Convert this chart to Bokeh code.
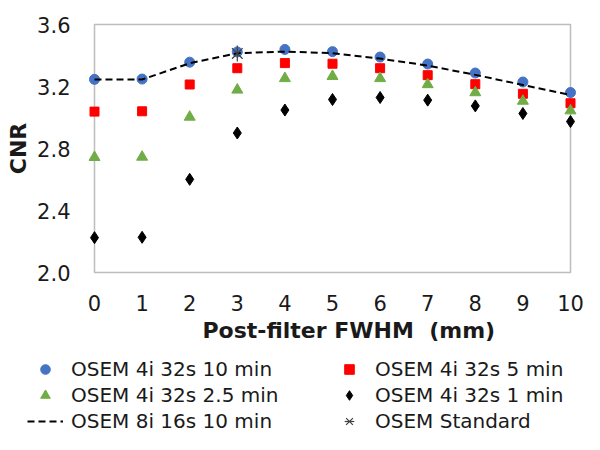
from bokeh.plotting import figure
from bokeh.models import (Legend, LegendItem, FixedTicker, PrintfTickFormatter,
                          BoxAnnotation, Range1d)
from bokeh.layouts import column, row
from bokeh.embed import file_html
from bokeh.resources import INLINE
import math

# ---- data ----
fwhm = [0, 1, 2, 3, 4, 5, 6, 7, 8, 9, 10]
osem_10min = [3.246, 3.248, 3.357, 3.423, 3.439, 3.425, 3.390, 3.345, 3.287, 3.229, 3.161]
osem_5min = [3.038, 3.040, 3.213, 3.318, 3.351, 3.347, 3.318, 3.273, 3.215, 3.153, 3.092]
osem_2_5min = [2.743, 2.745, 3.003, 3.178, 3.252, 3.266, 3.252, 3.213, 3.161, 3.106, 3.044]
osem_1min = [2.225, 2.227, 2.601, 2.900, 3.048, 3.116, 3.129, 3.112, 3.075, 3.026, 2.974]
osem_8i = [3.245, 3.245, 3.350, 3.415, 3.425, 3.415, 3.380, 3.335, 3.275, 3.210, 3.145]
std_x = [3]
std_y = [3.413]
x_ticks = [0, 1, 2, 3, 4, 5, 6, 7, 8, 9, 10]
y_ticks = [2.0, 2.4, 2.8, 3.2, 3.6]
labels = ["OSEM 4i 32s 10 min", "OSEM 4i 32s 5 min", "OSEM 4i 32s 2.5 min",
          "OSEM 4i 32s 1 min", "OSEM 8i 16s 10 min", "OSEM Standard"]

FONT = "DejaVu Sans"
TXT = "#1a1a1a"

W = 584
H1, H2 = 352, 82
# pixel layout of the main frame
x0_px, x10_px = 94, 570
y36_px, y20_px = 24, 272
f_left, f_right = 88, 578
f_top, f_bot = 21, 275
xpx = (x10_px - x0_px) / 10.0
ypx = (y20_px - y36_px) / 1.6
x_start = 0 - (x0_px - f_left) / xpx
x_end = 10 + (f_right - x10_px) / xpx
y_start = 2.0 - (f_bot - y20_px) / ypx
y_end = 3.6 + (y36_px - f_top) / ypx

p = figure(width=W, height=H1, output_backend="svg", toolbar_location=None,
           x_range=Range1d(x_start, x_end), y_range=Range1d(y_start, y_end),
           min_border_left=f_left, min_border_right=W - f_right,
           min_border_top=f_top, min_border_bottom=H1 - f_bot)
p.grid.visible = False
p.outline_line_color = None

box = BoxAnnotation(left=0, right=10, bottom=2.0, top=3.6, fill_color=None,
                    line_color="#262626", line_width=1.5, level="underlay")
p.add_layout(box)

for ax in (p.xaxis[0], p.yaxis[0]):
    ax.axis_line_color = None
    ax.major_tick_line_color = None
    ax.minor_tick_line_color = None
    ax.major_tick_out = 0
    ax.major_tick_in = 0
    ax.major_label_text_font = FONT
    ax.major_label_text_font_size = "21px"
    ax.major_label_text_color = TXT
    ax.axis_label_text_font = FONT
    ax.axis_label_text_font_style = "bold"
    ax.axis_label_text_font_size = "22px"
    ax.axis_label_text_color = TXT

p.xaxis.ticker = FixedTicker(ticks=x_ticks)
p.yaxis.ticker = FixedTicker(ticks=y_ticks)
p.yaxis.formatter = PrintfTickFormatter(format="%.1f")
p.xaxis.axis_label = "\u00a0\u00a0\u00a0\u00a0Post-filter FWHM \u00a0(mm)"
p.yaxis.axis_label = "CNR"
p.xaxis.major_label_standoff = 19
p.xaxis.axis_label_standoff = 4
p.yaxis.major_label_standoff = 18
p.yaxis.axis_label_standoff = 3

styles = [
    dict(marker="circle", size=10, fill_color="#4472C4", line_color="#4472C4"),
    dict(marker="square", size=9, fill_color="#FF0000", line_color="#FF0000"),
    dict(marker="triangle", size=11, fill_color="#70AD47", line_color="#70AD47"),
    dict(marker="diamond", size=12, fill_color="black", line_color="black"),
]
series = [osem_10min, osem_5min, osem_2_5min, osem_1min]
for s, st in zip(series, styles):
    p.scatter(fwhm, s, **st)
line_style = dict(line_color="black", line_width=2, line_dash="7 4")
p.line(fwhm, osem_8i, **line_style)
x_style = dict(marker="x", size=15, line_color="#404040", line_width=1.2)
v_style = dict(marker="dash", size=16, angle=math.pi / 2, line_color="#404040", line_width=1.2)
p.scatter(std_x, std_y, **x_style)
p.scatter(std_x, std_y, **v_style)

# ---- legend strip (separate figure so it can span the full width) ----
p2 = figure(width=W, height=H2, output_backend="svg", toolbar_location=None,
            x_range=Range1d(100, 101), y_range=Range1d(100, 101),
            min_border=0, min_border_left=0, min_border_right=0,
            min_border_top=0, min_border_bottom=0)
p2.axis.visible = False
p2.grid.visible = False
p2.outline_line_color = None
rs = [p2.scatter(fwhm, s, **st) for s, st in zip(series, styles)]
rl = p2.line(fwhm, osem_8i, **line_style)
rx = p2.scatter(std_x, std_y, **x_style)
rv = p2.scatter(std_x, std_y, **v_style)
renderer_groups = [[rs[0]], [rs[1]], [rs[2]], [rs[3]], [rl], [rx, rv]]

legend = Legend(items=[LegendItem(label=l, renderers=g) for l, g in zip(labels, renderer_groups)],
                orientation="horizontal", ncols=2, location=(27, 1))
legend.label_text_font = FONT
legend.label_text_font_size = "20px"
legend.label_text_color = TXT
legend.glyph_width = 36
legend.glyph_height = 24
legend.label_height = 24
legend.label_standoff = 8
legend.label_width = 258
legend.spacing = 2
legend.padding = 0
legend.margin = 0
legend.border_line_color = None
legend.background_fill_alpha = 0
p2.add_layout(legend)

open("out.html", "w").write(file_html(column(p, row(p2), spacing=0), INLINE))
